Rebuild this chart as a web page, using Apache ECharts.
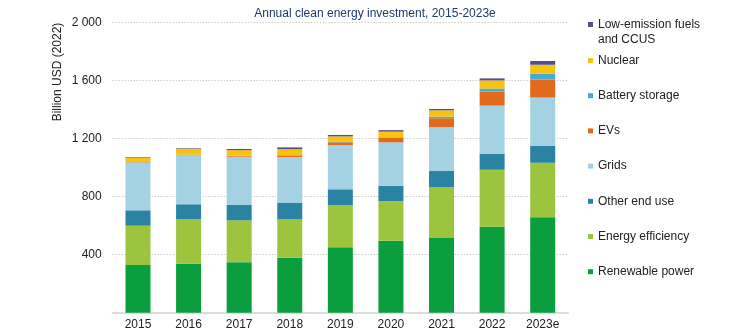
<!DOCTYPE html>
<html>
<head>
<meta charset="utf-8">
<script src="https://cdn.jsdelivr.net/npm/echarts@6/dist/echarts.min.js"></script>
<style>
html,body{margin:0;padding:0;background:#fff;}
#chart{width:734px;height:332px;}
</style>
</head>
<body>
<div id="chart"></div>
<script>
var categories = ['2015','2016','2017','2018','2019','2020','2021','2022','2023e'];
var renewablePower   = [329, 338, 348, 379, 451, 497, 516, 593, 658];
var energyEfficiency = [271, 306, 289, 265, 290, 272, 349, 393, 376];
var otherEndUse      = [106, 104, 106, 113, 110, 106, 112, 111, 116];
var grids            = [331, 337, 333, 317, 304, 300, 302, 331, 334];
var evs              = [5, 4, 6, 11, 20, 32, 62, 97, 124];
var batteryStorage   = [1, 1, 1, 1, 3, 3, 11, 21, 40];
var nuclear          = [27, 40, 38, 42, 38, 39, 44, 56, 62];
var lowEmissionFuels = [4, 4, 8, 12, 10, 10, 9, 14, 26];
var yTicks = [0, 400, 800, 1200, 1600, 2000];

var seriesDefs = [
  {name:'Renewable power', data:renewablePower, color:'#0b9e3e'},
  {name:'Energy efficiency', data:energyEfficiency, color:'#9cc43e'},
  {name:'Other end use', data:otherEndUse, color:'#2a83a2'},
  {name:'Grids', data:grids, color:'#a4d2e3'},
  {name:'EVs', data:evs, color:'#e26a1c'},
  {name:'Battery storage', data:batteryStorage, color:'#45acd0'},
  {name:'Nuclear', data:nuclear, color:'#f6c30f'},
  {name:'Low-emission fuels and CCUS', data:lowEmissionFuels, color:'#5c4b8c'}
];

var font = 'Liberation Sans, Arial, sans-serif';
var chart = echarts.init(document.getElementById('chart'), null, {renderer:'canvas'});
var option = {
  animation:false,
  textStyle:{fontFamily:font},
  title:{
    text:'Annual clean energy investment, 2015-2023e',
    left:370, top:3, textAlign:'center',
    textStyle:{fontSize:12, fontWeight:'normal', color:'#1f3a6e', fontFamily:font}
  },
  legend:[{
    orient:'vertical', left:588, top:2, padding:0,
    icon:'rect', itemWidth:5, itemHeight:5,
    data:['Low-emission fuels and CCUS'],
    formatter:function(){return ' \nLow-emission fuels\nand CCUS';},
    textStyle:{fontSize:12, color:'#222', lineHeight:15, fontFamily:font}
  },{
    orient:'vertical', left:588, top:53, padding:0,
    icon:'rect', itemWidth:5, itemHeight:5, itemGap:20.2,
    data:['Nuclear','Battery storage','EVs','Grids','Other end use','Energy efficiency','Renewable power'],
    textStyle:{fontSize:12, color:'#222', lineHeight:15, fontFamily:font}
  }],
  grid:{left:112.7, right:166, top:22.7, bottom:19.3, containLabel:false},
  xAxis:{
    type:'category', data:categories,
    axisLine:{show:true, lineStyle:{color:'#dcdcdc', width:2}},
    axisTick:{show:false},
    axisLabel:{fontSize:12, color:'#222', margin:6, fontFamily:font}
  },
  yAxis:{
    type:'value', min:0, max:2000, interval:400,
    axisLine:{show:false}, axisTick:{show:false},
    axisLabel:{fontSize:12, color:'#222', margin:11, fontFamily:font,
      formatter:function(v){ if(v===0) return ''; return String(v).replace(/\B(?=(\d{3})+(?!\d))/g,' '); }},
    splitLine:{show:true, lineStyle:{color:'#b8b8b8', type:[1,2], width:1}}
  },
  graphic:[{
    type:'text', x:58, y:72, rotation:Math.PI/2,
    style:{text:'Billion USD (2022)', align:'center', verticalAlign:'middle',
      font:'12px '+font, fill:'#222'}
  }],
  series:seriesDefs.map(function(s){
    return {name:s.name, type:'bar', stack:'total', barWidth:25,
      data:s.data, itemStyle:{color:s.color}, emphasis:{disabled:true}};
  })
};
chart.setOption(option);
</script>
</body>
</html>
